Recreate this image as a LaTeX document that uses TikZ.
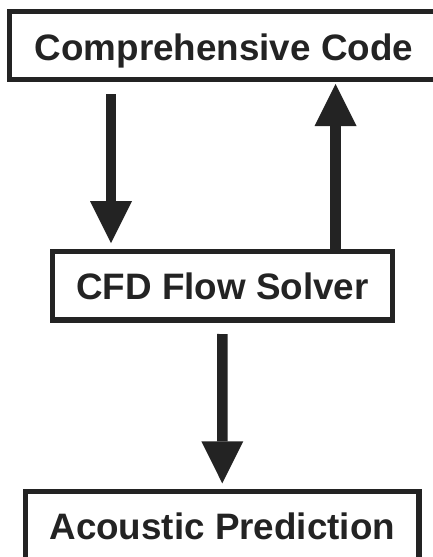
\documentclass[tikz,border=0pt]{standalone}
\usepackage{fontspec}
\setmainfont{Liberation Sans}
\usetikzlibrary{arrows.meta}
\definecolor{ink}{HTML}{232323}
\tikzset{
  boxnode/.style={draw=ink, line width=5.5pt, rectangle, inner sep=0pt, outer sep=0pt,
    text=ink, font=\fontsize{36.8}{40}\selectfont\bfseries},
  arr/.style={draw=ink, line width=10.5pt,
    -{Triangle[width=42pt,length=42pt,line width=0pt]}}
}
\begin{document}
\begin{tikzpicture}[x=1pt,y=-1pt]
\useasboundingbox (0,0) rectangle (433,557);
\clip (0,0) rectangle (433,557);
\fill[white] (0,0) rectangle (433,557);
\node[boxnode, minimum width=429pt, minimum height=68pt, text height=29pt, text depth=0pt]
  (top) at (224,45.5) {Comprehensive Code};
\node[boxnode, minimum width=340pt, minimum height=68.5pt, text height=27.5pt, text depth=0pt]
  (mid) at (222.5,285.75) {CFD Flow Solver};
\node[boxnode, minimum width=393.5pt, minimum height=83pt, text height=25pt, text depth=12.4pt]
  (bot) at (222.25,533) {Acoustic Prediction};
\draw[arr, shorten <=14.5pt, shorten >=8.5pt] ([xshift=-113pt]top.south) -- ([xshift=-111.5pt]mid.north);
\draw[arr, shorten >=4.5pt] ([xshift=113pt]mid.north) -- ([xshift=111.5pt]top.south);
\draw[arr, shorten <=14pt, shorten >=8.2pt] (mid.south) -- ([xshift=0pt]bot.north);
\end{tikzpicture}
\end{document}
